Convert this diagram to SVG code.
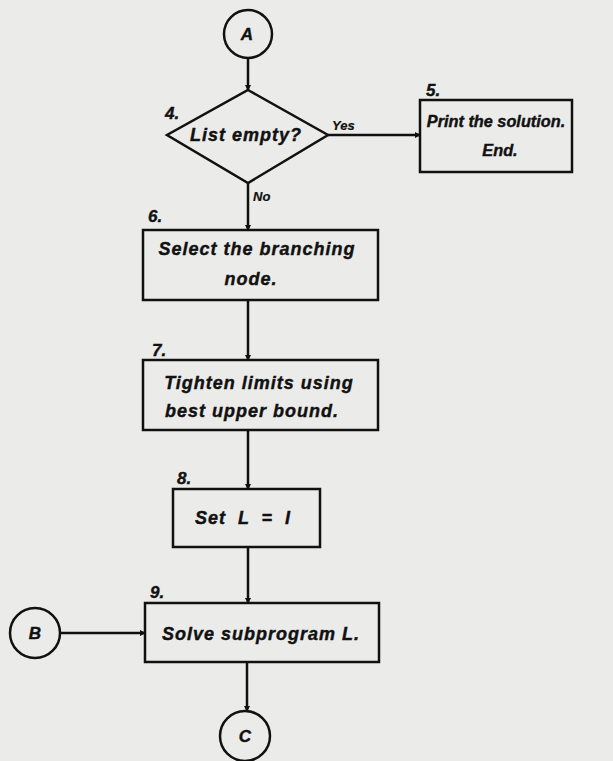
<svg xmlns="http://www.w3.org/2000/svg" width="613" height="761" viewBox="0 0 613 761">
<defs>
<marker id="ah" markerWidth="6" markerHeight="6" refX="5" refY="3" orient="auto" markerUnits="userSpaceOnUse">
<path d="M0,0 L6,3 L0,6 Z" fill="#111"/>
</marker>
<style>
.shape{fill:none;stroke:#111;stroke-width:2.5}
.conn{fill:none;stroke:#111;stroke-width:2.5;marker-end:url(#ah)}
text{font-family:"Liberation Sans",Arial,sans-serif;font-style:italic;font-weight:bold;fill:#111;stroke:#111;stroke-width:0.4;font-size:16px}
.c{text-anchor:middle}
.big{font-size:18px;letter-spacing:1px}
.mid{font-size:16.3px}
.lab{font-size:17px}
.sm{font-size:13px;stroke-width:0.2}
.circ{font-size:17px}
</style>
</defs>
<rect width="613" height="761" fill="#ebebe9"/>
<g id="connectors">
<line class="conn" x1="248" y1="59" x2="248" y2="90"/>
<line class="conn" x1="328" y1="135" x2="420" y2="135"/>
<line class="conn" x1="248" y1="183" x2="248" y2="230"/>
<line class="conn" x1="248" y1="300" x2="248" y2="360"/>
<line class="conn" x1="248" y1="430" x2="248" y2="489"/>
<line class="conn" x1="248" y1="547" x2="248" y2="603"/>
<line class="conn" x1="60" y1="633" x2="145" y2="633"/>
<line class="conn" x1="247" y1="662" x2="247" y2="711"/>
<text class="sm" x="332" y="130">Yes</text>
<text class="sm" x="253" y="201">No</text>
</g>
<g id="nodeA">
<circle class="shape" cx="248" cy="34" r="24"/>
<text class="c circ" x="247" y="40">A</text>
</g>
<g id="node4">
<polygon class="shape" points="248,90 328,135 248,183 167,135"/>
<text class="lab" x="165" y="119">4.</text>
<text class="c big" x="246" y="141">List empty?</text>
</g>
<g id="node5">
<rect class="shape" x="420" y="100" width="152" height="72"/>
<text class="lab" x="426" y="96">5.</text>
<text class="c mid" x="496" y="127">Print the solution.</text>
<text class="c mid" x="500" y="156">End.</text>
</g>
<g id="node6">
<rect class="shape" x="143" y="230" width="235" height="70"/>
<text class="lab" x="148" y="222">6.</text>
<text class="c big" x="257" y="255">Select the branching</text>
<text class="c big" x="251" y="285">node.</text>
</g>
<g id="node7">
<rect class="shape" x="143" y="360" width="235" height="70"/>
<text class="lab" x="152" y="356">7.</text>
<text class="c big" x="259" y="389">Tighten limits using</text>
<text class="c big" x="252" y="417">best upper bound.</text>
</g>
<g id="node8">
<rect class="shape" x="173" y="489" width="147" height="58"/>
<text class="lab" x="177" y="484">8.</text>
<text class="c big" x="243" y="524" style="word-spacing:6px">Set L = I</text>
</g>
<g id="node9">
<rect class="shape" x="145" y="603" width="234" height="59"/>
<text class="lab" x="150" y="598">9.</text>
<text class="c big" x="261" y="640">Solve subprogram L.</text>
</g>
<g id="nodeB">
<circle class="shape" cx="35" cy="633" r="25"/>
<text class="c circ" x="35" y="639">B</text>
</g>
<g id="nodeC">
<circle class="shape" cx="245" cy="736" r="25"/>
<text class="c circ" x="245" y="742">C</text>
</g>
</svg>
